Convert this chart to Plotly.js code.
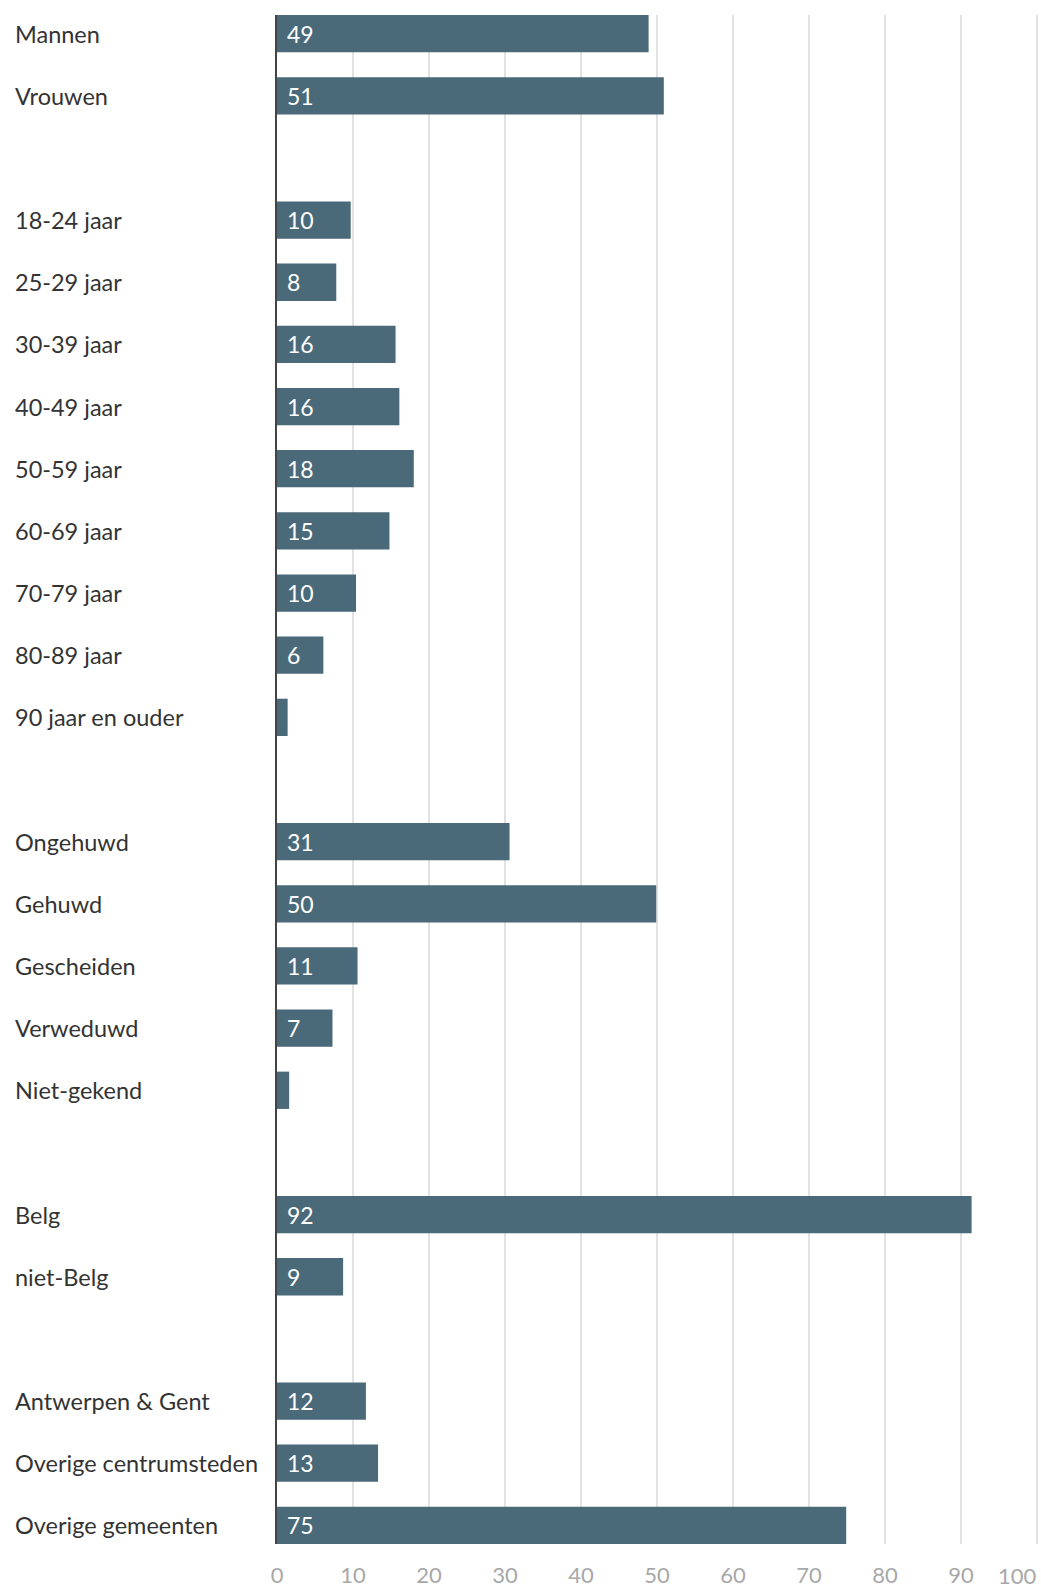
<!DOCTYPE html>
<html>
<head>
<meta charset="utf-8">
<script src="https://cdn.plot.ly/plotly-3.0.1.min.js"></script>
<style>html,body{margin:0;padding:0;background:#fff;}#chart{width:1041px;height:1587px;}</style>
</head>
<body>
<div id="chart"></div>
<script>
// Categories (empty strings = spacer rows between groups)
const categories = [
  "Mannen", "Vrouwen", "",
  "18-24 jaar", "25-29 jaar", "30-39 jaar", "40-49 jaar", "50-59 jaar", "60-69 jaar", "70-79 jaar", "80-89 jaar", "90 jaar en ouder", "",
  "Ongehuwd", "Gehuwd", "Gescheiden", "Verweduwd", "Niet-gekend", "",
  "Belg", "niet-Belg", "",
  "Antwerpen & Gent", "Overige centrumsteden", "Overige gemeenten"
];
// Percentages (null for spacer rows)
const values = [
  48.9, 50.9, null,
  9.7, 7.8, 15.6, 16.1, 18.0, 14.8, 10.4, 6.1, 1.4, null,
  30.6, 49.9, 10.6, 7.3, 1.6, null,
  91.4, 8.7, null,
  11.7, 13.3, 74.9
];
// Value labels shown inside bars
const barLabels = [
  "49", "51", "",
  "10", "8", "16", "16", "18", "15", "10", "6", "", "",
  "31", "50", "11", "7", "", "",
  "92", "9", "",
  "12", "13", "75"
];
const xTickVals = [0, 10, 20, 30, 40, 50, 60, 70, 80, 90, 100];
const xTickText = ["0", "10", "20", "30", "40", "50", "60", "70", "80", "90", "100"];

const FONT = 'Lato, "Open Sans", sans-serif';
const barX = [], barY = [];
values.forEach((v, i) => { if (v !== null) { barX.push(v); barY.push(i); } });

const W = 1041, H = 1587;
const mL = 277, mR = 1, mT = 15, mB = 43;
const plotW = W - mL - mR;

const annotations = [];
categories.forEach((c, i) => {
  if (c) {
    annotations.push({
      text: c, xref: 'paper', yref: 'y', x: -(mL - 13) / plotW, y: i,
      xanchor: 'left', yanchor: 'middle', showarrow: false,
      font: {family: FONT, size: 23.5, color: '#333333'}
    });
  }
});
barLabels.forEach((t, i) => {
  if (t) {
    annotations.push({
      text: t, xref: 'x', yref: 'y', x: 0, y: i, xshift: 8,
      xanchor: 'left', yanchor: 'middle', showarrow: false,
      font: {family: FONT, size: 23, color: '#ffffff'}
    });
  }
});
// last tick label is right-aligned so it stays inside the figure
const lastIdx = xTickVals.length - 1;
annotations.push({
  text: xTickText[lastIdx], xref: 'x', yref: 'paper', x: xTickVals[lastIdx], y: 0,
  xanchor: 'right', yanchor: 'middle', yshift: -31, xshift: 1,
  height: 18, borderpad: 0, showarrow: false,
  font: {family: FONT, size: 22, color: '#a8a8a8'}
});

const trace = {
  type: 'bar', orientation: 'h',
  x: barX, y: barY, width: 0.6,
  marker: {color: '#4a6a7a', line: {width: 0}},
  hoverinfo: 'x+y'
};

const layout = {
  width: W, height: H,
  margin: {l: mL, r: mR, t: mT, b: mB, pad: 0},
  paper_bgcolor: '#ffffff', plot_bgcolor: '#ffffff',
  showlegend: false,
  xaxis: {
    range: [0, 100.4], tickvals: xTickVals,
    ticktext: xTickText.map((t, i) => i === lastIdx ? '' : t),
    showgrid: true, gridcolor: '#e2e2e2', gridwidth: 2,
    zeroline: false, showline: false,
    ticks: 'outside', ticklen: 12, tickcolor: 'rgba(0,0,0,0)',
    tickfont: {family: FONT, size: 22, color: '#a8a8a8'},
    fixedrange: true
  },
  yaxis: {
    range: [categories.length - 1 + 0.3, -0.3],
    showticklabels: false, showgrid: false, zeroline: false,
    showline: true, linecolor: '#444444', linewidth: 2, ticks: '',
    fixedrange: true
  },
  annotations: annotations
};

Plotly.newPlot('chart', [trace], layout, {displayModeBar: false, staticPlot: true});
</script>
</body>
</html>
